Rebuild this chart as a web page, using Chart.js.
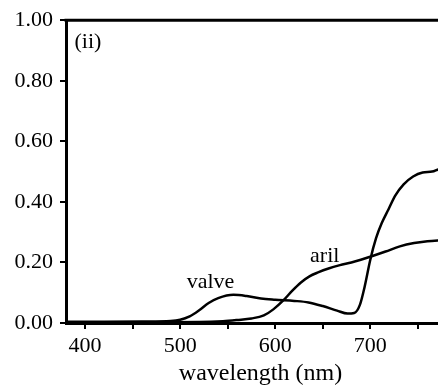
<!DOCTYPE html>
<html>
<head>
<meta charset="utf-8">
<script src="https://cdn.jsdelivr.net/npm/chart.js@4.4.1/dist/chart.umd.min.js"></script>
<style>
  html, body { margin: 0; padding: 0; background: #fff; overflow: hidden; }
  #frame { width: 438px; height: 388px; overflow: hidden; }
  #wrap { width: 456px; height: 388px; }
</style>
</head>
<body>
<div id="frame"><div id="wrap"><canvas id="spectra"></canvas></div></div>
<script>
// reflectance spectra, wavelength in nm
const valveNm = [380, 420, 460, 490, 500, 510, 520, 530, 540, 556, 570, 585, 600, 620, 635, 650, 665, 676, 683, 689, 694, 700, 706, 712, 719, 726, 735, 745, 755, 765, 772, 789];
const valveVals = [0.004, 0.004, 0.005, 0.007, 0.011, 0.022, 0.042, 0.066, 0.082, 0.093, 0.089, 0.081, 0.077, 0.073, 0.068, 0.056, 0.041, 0.031, 0.033, 0.06, 0.12, 0.21, 0.28, 0.33, 0.375, 0.42, 0.458, 0.484, 0.497, 0.5, 0.508, 0.515];

const arilNm = [380, 450, 520, 545, 560, 575, 588, 598, 609, 618, 627, 636, 645, 656, 668, 680, 690, 703, 716, 731, 746, 760, 772, 789];
const arilVals = [0.002, 0.002, 0.003, 0.006, 0.01, 0.015, 0.025, 0.045, 0.076, 0.107, 0.134, 0.154, 0.167, 0.18, 0.191, 0.2, 0.209, 0.222, 0.236, 0.253, 0.264, 0.27, 0.273, 0.276];

const xTicks = [400, 450, 500, 550, 600, 650, 700, 750];
const yTicks = [0, 0.2, 0.4, 0.6, 0.8, 1.0];

const notes = [
  { text: 'valve', x: 532, y: 0.135 },
  { text: 'aril', x: 652, y: 0.221 },
  { text: '(ii)', x: 403, y: 0.927 }
];

const serif = '"Liberation Serif", "Times New Roman", serif';

function toPoints(xs, ys) {
  return xs.map((x, i) => ({ x: x, y: ys[i] }));
}

// top frame line and the curve labels
const extras = {
  id: 'extras',
  afterDraw(chart) {
    const { ctx, chartArea, scales } = chart;
    ctx.save();
    ctx.strokeStyle = '#000';
    ctx.lineWidth = 3;
    ctx.beginPath();
    ctx.moveTo(chartArea.left - 1.5, chartArea.top);
    ctx.lineTo(chartArea.right, chartArea.top);
    ctx.stroke();

    ctx.fillStyle = '#000';
    ctx.font = '22px ' + serif;
    ctx.textAlign = 'center';
    ctx.textBaseline = 'middle';
    notes.forEach(n => {
      ctx.fillText(n.text, scales.x.getPixelForValue(n.x), scales.y.getPixelForValue(n.y));
    });
    ctx.restore();
  }
};

const line = {
  borderColor: '#000',
  borderWidth: 2.5,
  pointRadius: 0,
  fill: false,
  tension: 0.4,
  cubicInterpolationMode: 'monotone'
};

new Chart(document.getElementById('spectra'), {
  type: 'line',
  data: {
    datasets: [
      Object.assign({ label: 'valve', data: toPoints(valveNm, valveVals) }, line),
      Object.assign({ label: 'aril', data: toPoints(arilNm, arilVals) }, line)
    ]
  },
  options: {
    responsive: true,
    maintainAspectRatio: false,
    animation: false,
    layout: { padding: { top: 20, right: 1, left: 0, bottom: 0 } },
    plugins: { legend: { display: false }, tooltip: { enabled: false } },
    scales: {
      x: {
        type: 'linear',
        min: 380,
        max: 789,
        afterBuildTicks: axis => { axis.ticks = xTicks.map(v => ({ value: v })); },
        afterFit: axis => { axis.height = 65; },
        border: { color: '#000', width: 3 },
        grid: { drawOnChartArea: false, color: '#000', tickLength: 6, lineWidth: 2 },
        ticks: {
          color: '#000',
          font: { family: serif, size: 22 },
          padding: 4,
          maxRotation: 0,
          autoSkip: false,
          callback: v => (v % 100 === 0 ? String(v) : '')
        },
        title: {
          display: true,
          text: 'wavelength (nm)',
          color: '#000',
          font: { family: serif, size: 24 },
          padding: { top: 0, bottom: 0 }
        }
      },
      y: {
        min: 0,
        max: 1,
        afterBuildTicks: axis => { axis.ticks = yTicks.map(v => ({ value: v })); },
        afterFit: axis => { axis.width = 66; },
        border: { color: '#000', width: 3 },
        grid: { drawOnChartArea: false, color: '#000', tickLength: 6, lineWidth: 2 },
        ticks: {
          color: '#000',
          font: { family: serif, size: 22 },
          padding: 7,
          callback: v => v.toFixed(2)
        }
      }
    }
  },
  plugins: [extras]
});
</script>
</body>
</html>
